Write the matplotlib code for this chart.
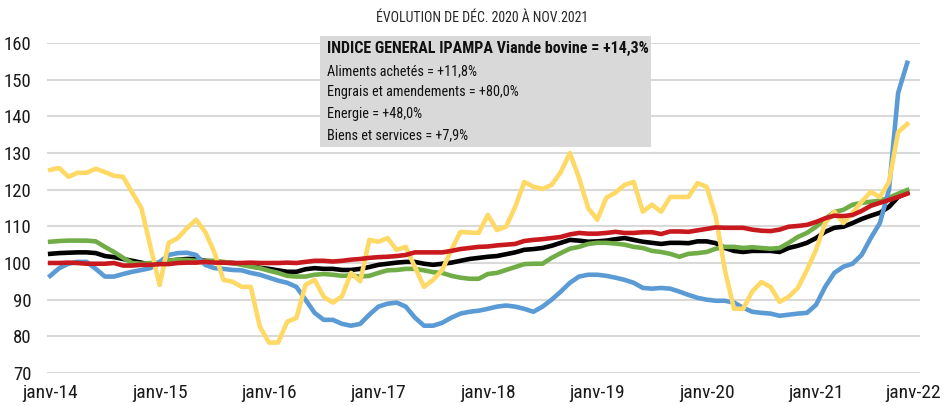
import matplotlib
matplotlib.use("Agg")
import matplotlib.pyplot as plt
from matplotlib import font_manager
from matplotlib.patches import Rectangle

# ---- data (monthly, janv-14 .. nov-21) ----
general = [102.5, 102.7, 102.8, 102.9, 102.9, 102.7, 101.9, 101.6, 101.1, 100.6, 100.1, 99.5,
           99.8, 100.6, 100.9, 101.1, 101.1, 100.6, 100.4, 100.1, 100.0, 99.8, 99.2, 98.7,
           98.4, 98.0, 97.6, 97.6, 98.3, 98.6, 98.4, 98.4, 98.1, 98.1, 98.4, 98.9,
           99.5, 99.8, 100.1, 100.3, 100.3, 99.8, 99.5, 99.8, 100.1, 100.6, 101.1, 101.4,
           101.7, 101.9, 102.4, 102.9, 103.6, 103.8, 104.1, 104.7, 105.5, 106.3, 106.1, 105.8,
           105.9, 106.1, 106.5, 106.8, 106.3, 105.8, 105.5, 105.2, 105.5, 105.5, 105.4, 105.9,
           105.9, 105.4, 104.1, 103.3, 103.0, 103.3, 103.3, 103.3, 103.0, 104.1, 104.7, 105.5,
           106.8, 108.5, 109.6, 109.9, 110.9, 112.0, 112.9, 113.7, 115.3, 118.0, 119.1]
aliments = [105.8, 106.0, 106.1, 106.1, 106.1, 105.9, 104.4, 103.0, 101.4, 100.0, 99.8, 100.0,
            100.1, 100.6, 100.9, 100.8, 100.6, 100.6, 100.6, 100.3, 100.0, 99.5, 99.0, 98.6,
            97.9, 97.3, 96.5, 96.3, 96.3, 96.8, 97.0, 96.8, 96.5, 96.6, 96.3, 96.5,
            97.3, 98.0, 98.1, 98.4, 98.4, 98.0, 97.5, 97.3, 96.5, 96.0, 95.7, 95.7,
            97.0, 97.3, 98.1, 98.9, 99.7, 99.8, 99.8, 101.4, 102.7, 103.9, 104.4, 105.2,
            105.5, 105.5, 105.3, 105.0, 104.4, 104.1, 103.3, 103.0, 102.5, 101.7, 102.5, 102.7,
            103.0, 103.9, 104.4, 104.4, 104.1, 104.3, 104.1, 103.9, 104.1, 105.5, 107.1, 108.2,
            109.9, 112.0, 113.9, 114.5, 115.9, 116.4, 116.7, 117.0, 117.8, 118.9, 119.9]
engrais = [96.5, 98.6, 99.8, 100.3, 100.3, 98.4, 96.3, 96.3, 97.0, 97.6, 98.1, 98.6,
           100.3, 102.2, 102.7, 102.8, 102.2, 99.5, 98.6, 98.4, 98.1, 98.0, 97.3, 96.8,
           96.0, 95.2, 94.6, 93.5, 90.0, 86.4, 84.5, 84.5, 83.4, 82.9, 83.4, 85.9,
           88.1, 88.9, 89.2, 88.1, 85.1, 82.9, 82.9, 83.7, 85.1, 86.2, 86.7, 87.0,
           87.5, 88.1, 88.4, 88.1, 87.5, 86.7, 88.1, 90.0, 92.2, 94.6, 96.3, 96.8,
           96.8, 96.5, 96.0, 95.4, 94.6, 93.2, 93.0, 93.2, 93.0, 92.2, 91.3, 90.5,
           90.0, 89.7, 89.7, 89.2, 87.8, 86.7, 86.4, 86.2, 85.6, 85.9, 86.2, 86.4,
           88.6, 93.5, 97.3, 99.0, 99.8, 102.2, 106.8, 110.9, 120.0, 146.4, 154.6]
energie = [125.4, 125.9, 123.5, 124.6, 124.6, 125.7, 124.8, 123.8, 123.5, 119.2, 115.0, 104.4,
           94.0, 105.5, 106.8, 109.5, 111.8, 108.5, 103.0, 95.4, 94.9, 93.5, 93.5, 82.6,
           78.3, 78.3, 84.0, 85.0, 94.0, 95.4, 90.8, 89.2, 90.9, 97.3, 95.0, 106.3,
           105.8, 106.8, 103.6, 104.4, 98.9, 93.5, 95.4, 98.1, 103.6, 108.5, 108.3, 108.2,
           113.1, 109.0, 109.9, 115.3, 122.1, 120.8, 120.2, 121.3, 124.8, 130.0, 123.2, 115.0,
           111.8, 117.8, 119.2, 121.3, 122.1, 114.0, 115.9, 114.0, 118.0, 118.0, 118.0, 121.8,
           120.8, 112.6, 98.1, 87.5, 87.5, 92.2, 94.8, 93.5, 89.4, 90.8, 93.2, 98.1,
           103.6, 110.9, 114.0, 110.9, 113.7, 116.7, 119.4, 118.0, 122.1, 135.7, 137.9]
biens = [100.0, 100.0, 100.1, 100.0, 99.8, 99.8, 99.8, 100.0, 99.3, 99.3, 99.5, 99.5,
         99.7, 99.7, 100.0, 100.1, 100.1, 100.3, 100.1, 100.1, 100.0, 100.0, 100.1, 100.0,
         100.0, 100.0, 100.1, 100.0, 100.3, 100.6, 100.6, 100.4, 100.6, 100.9, 101.1, 101.4,
         101.6, 101.7, 101.9, 102.2, 102.9, 102.9, 102.9, 102.9, 103.3, 103.8, 104.1, 104.4,
         104.5, 104.8, 105.0, 105.2, 106.0, 106.3, 106.5, 106.8, 107.1, 107.8, 108.2, 108.0,
         108.0, 108.2, 108.5, 108.2, 108.2, 108.4, 108.4, 107.9, 108.6, 108.6, 108.5, 108.9,
         109.3, 109.7, 109.6, 109.6, 109.6, 109.1, 108.8, 108.7, 109.1, 109.9, 110.1, 110.4,
         111.2, 112.2, 112.9, 112.8, 113.1, 114.2, 115.6, 116.4, 117.2, 118.0, 118.9]

tick_labels = ["janv-14", "janv-15", "janv-16", "janv-17", "janv-18",
               "janv-19", "janv-20", "janv-21", "janv-22"]
title = "ÉVOLUTION DE DÉC. 2020 À NOV.2021"
box_lines = ["INDICE GENERAL IPAMPA Viande bovine = +14,3%",
             "Aliments achetés = +11,8%",
             "Engrais et amendements = +80,0%",
             "Energie = +48,0%",
             "Biens et services = +7,9%"]

# ---- fonts ----
avail = {f.name for f in font_manager.fontManager.ttflist}
fam = [f for f in ["Liberation Sans Narrow", "Roboto Condensed", "Open Sans Condensed",
                   "DejaVu Sans Condensed", "Liberation Sans", "DejaVu Sans"] if f in avail]
plt.rcParams['font.family'] = fam + ["DejaVu Sans"]

fig = plt.figure(figsize=(9.42, 4.05), dpi=100)
ax = fig.add_axes([47/942, 1 - 373/405, (920-47)/942, (373-43)/405])

x = list(range(len(general)))
lw = 3.3
ax.plot(x, general, color="#000000", lw=lw, solid_joinstyle="round", zorder=3)
ax.plot(x, aliments, color="#70ad47", lw=lw, solid_joinstyle="round", zorder=3)
ax.plot(x, engrais, color="#5b9bd5", lw=lw, solid_joinstyle="round", zorder=3)
ax.plot(x, energie, color="#ffd966", lw=lw, solid_joinstyle="round", zorder=3)
ax.plot(x, biens, color="#c81a1e", lw=lw, solid_joinstyle="round", zorder=3)

ax.set_ylim(70, 160)
ax.set_xlim(-0.35, 95.4)
ax.set_yticks(range(70, 161, 10))
ticks = [12 * i for i in range(8)] + [94.6]
ax.set_xticks(ticks)
ax.set_xticklabels(tick_labels)
ax.grid(axis="y", color="#d9d9d9", lw=1.5, zorder=0)
for s in ax.spines.values():
    s.set_visible(False)
ax.tick_params(axis="y", length=0, labelsize=13.5, colors="#1a1a1a", pad=11)
ax.tick_params(axis="x", length=0, labelsize=14, colors="#1a1a1a", pad=8)

fig.text(482/942, 1 - 18/405, title, ha="center", va="center", fontsize=10, color="#262626")

fig.patches.append(Rectangle((320/942, 1 - 147/405), (651-320)/942, (147-36)/405,
                             transform=fig.transFigure, facecolor="#d9d9d9",
                             edgecolor="none", zorder=5))
ys = [48, 71, 92, 114, 135]
for i, (t, yy) in enumerate(zip(box_lines, ys)):
    fig.text(327/942, 1 - yy/405, t, ha="left", va="center",
             fontsize=11.5 if i == 0 else 10.3, fontweight="bold" if i == 0 else "normal",
             color="#111111", zorder=6)

fig.savefig("out.png", dpi=100)
